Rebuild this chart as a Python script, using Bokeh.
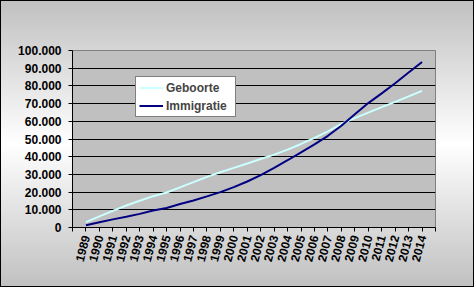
from bokeh.plotting import figure
from bokeh.models import Range1d, FixedTicker, Legend, LegendItem, Label
from bokeh.embed import file_html
from bokeh.resources import INLINE
import math

# ---- data ----
years = list(range(1989, 2015))
geboorte = [3000, 6300, 9400, 12400, 15100, 17700, 19800, 22700, 25600, 28600,
            31200, 33700, 36200, 38700, 41200, 44000, 47200, 50600, 54300, 58600,
            61800, 64900, 68000, 71000, 74100, 77200]
immigratie = [1300, 3000, 4600, 6100, 7700, 9600, 11000, 13300, 15300, 17600,
              20000, 22800, 26000, 29600, 33700, 38000, 42500, 47000, 51800, 57500,
              64000, 70300, 75800, 81500, 87600, 93500]
y_ticks = list(range(0, 100001, 10000))
title_text = "Cumul geboorte en immigratie 1989-2015"
series_names = ["Geboorte", "Immigratie"]

FONT = "Liberation Sans"
idx = list(range(len(years)))

p = figure(width=474, height=287, output_backend="svg", toolbar_location=None,
           x_range=Range1d(-1, len(years)), y_range=Range1d(0, 100000))
p.min_border_left = 72
p.min_border_right = 39
p.min_border_top = 50
p.min_border_bottom = 60
p.background_fill_color = "#c0c0c0"
p.border_fill_alpha = 0
p.outline_line_color = "#808080"
p.styles = {"background": "linear-gradient(to bottom, #c0c0c0 0%, #ffffff 50%, #c0c0c0 100%)",
            "outline": "1px solid black", "outline-offset": "-1px"}

# lines
r1 = p.line(idx, geboorte, line_color="#ccffff", line_width=2)
r2 = p.line(idx, immigratie, line_color="#000080", line_width=2)

# axes
xa = p.xaxis[0]
xa.ticker = FixedTicker(ticks=list(range(-1, len(years) + 1)), minor_ticks=[])
ov = {i: str(y) for i, y in zip(idx, years)}
ov[-1] = ""
ov[len(years)] = ""
xa.major_label_overrides = ov
xa.major_label_orientation = math.radians(75)
xa.major_label_text_font = FONT
xa.major_label_text_font_style = "bold"
xa.major_label_text_font_size = "12px"
xa.major_label_text_color = "black"
xa.major_tick_in = 0
xa.major_tick_out = 4
xa.minor_tick_line_color = None
xa.axis_line_color = "black"
xa.major_tick_line_color = "black"
xa.major_label_standoff = 4

ya = p.yaxis[0]
ya.ticker = FixedTicker(ticks=y_ticks, minor_ticks=[])
ya.major_label_overrides = {v: f"{v:,}".replace(",", ".") for v in y_ticks}
ya.major_label_text_font = FONT
ya.major_label_text_font_style = "bold"
ya.major_label_text_font_size = "12px"
ya.major_label_text_color = "black"
ya.major_tick_in = 0
ya.major_tick_out = 4
ya.minor_tick_line_color = None
ya.axis_line_color = "black"
ya.major_tick_line_color = "black"
ya.major_label_standoff = 7

p.xgrid.visible = False
p.ygrid.ticker = FixedTicker(ticks=y_ticks, minor_ticks=[])
p.ygrid.grid_line_color = "black"

# title
p.add_layout(Label(x=11.23, y=115400, text=title_text, text_align="center",
                   text_baseline="middle", text_font=FONT, text_font_style="bold",
                   text_font_size="13px", text_color="black"))

legend = Legend(items=[LegendItem(label=series_names[0], renderers=[r1]),
                       LegendItem(label=series_names[1], renderers=[r2])],
                location=(63, 110), orientation="vertical")
legend.padding = 3
legend.spacing = 3
legend.margin = 0
legend.glyph_width = 24
legend.glyph_height = 15
legend.label_height = 15
legend.label_width = 66
legend.label_standoff = 3
legend.label_text_font = FONT
legend.label_text_font_style = "bold"
legend.label_text_font_size = "12px"
legend.border_line_color = "black"
legend.border_line_width = 1
legend.background_fill_color = "white"
legend.background_fill_alpha = 1
p.add_layout(legend, "center")

open("out.html", "w").write(file_html(p, INLINE))
